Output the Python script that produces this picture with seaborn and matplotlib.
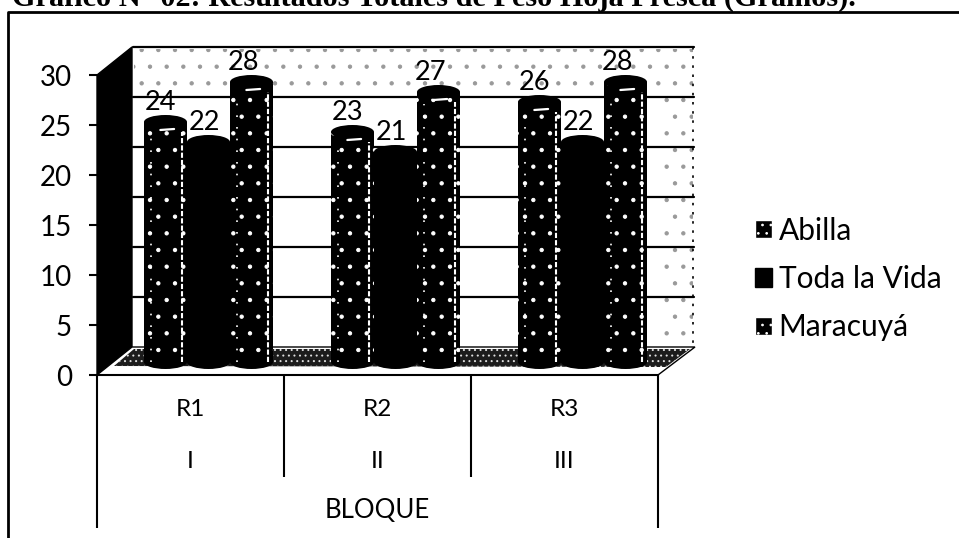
import matplotlib
matplotlib.use("Agg")
import matplotlib.pyplot as plt
from matplotlib.patches import Polygon, Ellipse
from matplotlib.transforms import Affine2D
import pandas as pd
import seaborn as sns

bloques = ["R1", "R2", "R3"]
numerales = ["I", "II", "III"]
grupo = "BLOQUE"
abilla = [24, 23, 26]
toda_la_vida = [22, 21, 22]
maracuya = [28, 27, 28]
series = ["Abilla", "Toda la Vida", "Maracuyá"]
yticks = [0, 5, 10, 15, 20, 25, 30]
titulo = "Gráfico N° 02: Resultados Totales de Peso Hoja Fresca (Gramos)."

df = pd.DataFrame({
    "bloque": bloques * 3,
    "serie": [s for s in series for _ in bloques],
    "valor": abilla + toda_la_vida + maracuya,
})

sns.set_theme(style="white")
plt.rcParams["font.family"] = ["Lato", "DejaVu Sans"]
plt.rcParams["hatch.linewidth"] = 0.7
W, H = 959, 538
fig = plt.figure(figsize=(W / 100, H / 100), dpi=100, facecolor="white")

bg = fig.add_axes([0, 0, 1, 1], zorder=0)
bg.set_xlim(0, W); bg.set_ylim(H, 0); bg.axis("off")
ax = fig.add_axes([97 / W, (H - 375) / H, 561 / W, 300 / H], zorder=1)
ax.patch.set_alpha(0)

# frame and title
bg.plot([8, 8, W], [H, 12, 12], color="black", lw=2, solid_capstyle="butt")
bg.text(12, 6, titulo, family="Liberation Serif", weight="bold", fontsize=21.8,
        color="black", va="baseline")

# 3-D walls and floor
bg.add_patch(Polygon([(97, 75), (132, 47), (132, 347), (97, 375)], fc="black", ec="black"))
bg.add_patch(Polygon([(134, 49), (693, 49), (693, 96), (134, 96)], fc="none", ec="#999999",
                     hatch=".", lw=0))
bg.add_patch(Polygon([(662, 96), (693, 96), (693, 345), (662, 345)], fc="none", ec="#999999",
                     hatch=".", lw=0))
bg.plot([693, 693], [47, 347], color="black", lw=1.2, ls=(0, (1.5, 4)))
bg.add_patch(Polygon([(97, 375), (132, 347), (695, 347), (658, 375)], fc="white", ec="black", lw=1))
bg.add_patch(Polygon([(114, 366), (134, 349), (690, 349), (666, 367)], fc="#1c1c1c", ec="#dddddd",
                     hatch="...", lw=0))

sns.barplot(data=df, x="bloque", y="valor", hue="serie", order=bloques, hue_order=series,
            palette=["black", "black", "black"], width=0.69, gap=0, dodge=True,
            saturation=1, errorbar=None, ax=ax, zorder=3)

ax.set_xlim(-0.5, 2.5)
ax.set_ylim(0, 30)
ax.set_yticks(yticks)
ax.set_xticks([])
ax.set_xlabel(""); ax.set_ylabel("")
ax.tick_params(axis="y", left=True, length=6, width=1.5, color="black", pad=12,
               labelsize=20, labelcolor="black")
for s in ["top", "right", "left"]:
    ax.spines[s].set_visible(False)
ax.spines["bottom"].set_color("black")
ax.spines["bottom"].set_linewidth(1.5)

depth = ax.transData + Affine2D().translate(36, 28)
for v in yticks[1:]:
    ax.plot([-0.5, 2.5], [v, v], color="black", lw=1.6, transform=depth, zorder=1, clip_on=False)

shift = ax.transData + Affine2D().translate(18, 13)
ell_h = 1.4
for c, hatch_, dx in zip(ax.containers, [".", None, "."], [-5, -4, -8]):
    for bar in c:
        x0, w, h = bar.get_x(), bar.get_width(), bar.get_height()
        bar.set_transform(shift)
        bar.set_clip_on(False)
        bar.set_edgecolor("white" if hatch_ else "black")
        bar.set_linewidth(0)
        if hatch_:
            bar.set_hatch(hatch_)
        cx = x0 + w / 2
        ax.add_patch(Ellipse((cx, 0), w, ell_h, fc="black", ec="none", transform=shift,
                             zorder=3.1, clip_on=False))
        ax.add_patch(Ellipse((cx, h), w, ell_h, fc="black", ec="none", transform=shift,
                             zorder=3.1, clip_on=False))
        ax.annotate(str(int(h)), xy=(cx, h), xycoords=shift, xytext=(dx, 20),
                    textcoords="offset pixels", ha="center", va="center",
                    fontsize=19.5, color="black", zorder=5)
        if hatch_:
            ax.plot([cx - w * 0.12, cx + w * 0.2], [h - 0.8, h - 0.7], color="white", lw=1.6,
                    transform=shift, zorder=4, clip_on=False)
            ax.plot([x0 + w * 0.88] * 2, [0, h - 1.0], color="white", lw=1.5, ls=(0, (2.5, 1)),
                    transform=shift, zorder=4, clip_on=False)
            ax.plot([x0 + w * 0.16] * 2, [0, h - 1.2], color="white", lw=1.2, ls=(0, (1, 6)),
                    transform=shift, zorder=4, clip_on=False)

# multi-level category axis
for i, xp in enumerate([-0.5, 0.5, 1.5, 2.5]):
    outer = i in (0, 3)
    ax.plot([xp, xp], [0, -15.3 if outer else -10.2], color="black", lw=1.5, clip_on=False,
            solid_capstyle="butt")
for i, (b, n) in enumerate(zip(bloques, numerales)):
    ax.text(i, -3.5, b, ha="center", va="center", fontsize=17.5, color="black")
    ax.text(i, -8.6, n, ha="center", va="center", fontsize=17.5, color="black")
ax.text(1, -13.6, grupo, ha="center", va="center", fontsize=18.5, color="black")

# legend
sns.move_legend(ax, "center left", bbox_to_anchor=(755 / W, (H - 279) / H),
                bbox_transform=fig.transFigure, frameon=False, title=None, fontsize=21.5,
                handlelength=0.57, handleheight=0.57, handletextpad=0.22, labelspacing=0.68,
                borderpad=0, borderaxespad=0, labelcolor="black")
for hnd, hatch_ in zip(ax.get_legend().legend_handles, ["..", None, ".."]):
    hnd.set_hatch(hatch_)
    hnd.set_edgecolor("white" if hatch_ else "black")

fig.savefig("out.png", dpi=100)
